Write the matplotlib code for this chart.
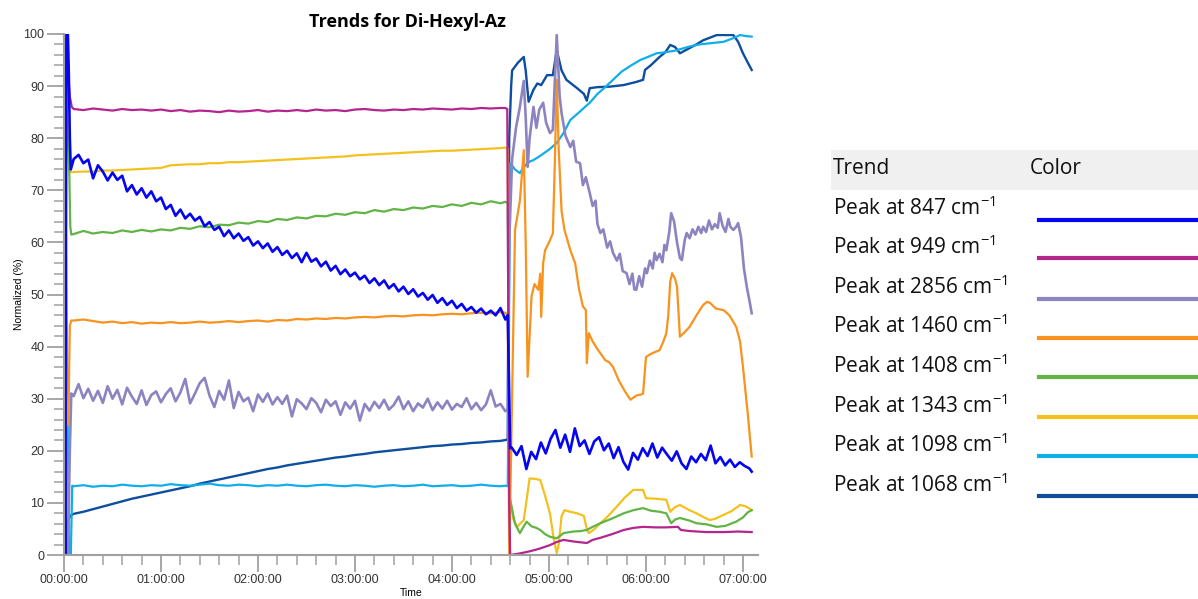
import numpy as np
import matplotlib
matplotlib.use("Agg")
import matplotlib.pyplot as plt
from matplotlib.ticker import MultipleLocator, FuncFormatter
from matplotlib.patches import Rectangle
from matplotlib.lines import Line2D

plt.rcParams['mathtext.fontset'] = 'custom'
plt.rcParams['mathtext.rm'] = 'Open Sans'
plt.rcParams['mathtext.it'] = 'Open Sans'

TITLE = "Trends for Di-Hexyl-Az"
PEAKS = ["847", "949", "2856", "1460", "1408", "1343", "1098", "1068"]
COLORS = ["#0505F0", "#B4258E", "#8C84C0", "#F7931E", "#62B446", "#F3C11E", "#10AEE8", "#0D4E9E"]

# sampling grids (hours)
T_FINE = np.arange(6, 274, 3) / 60.0      # 0.10 .. 4.55
T_COARSE = np.arange(6, 271, 6) / 60.0    # 0.10 .. 4.50
T2_FINE = np.arange(277, 427, 3) / 60.0   # 4.62 .. 7.07

# ---- Peak at 847 ----
p847_t0 = [0.0, 0.012, 0.025, 0.04, 0.05, 0.06, 0.07]
p847_v0 = [83, 0, 100, 100, 92, 80, 74]
p847_v1 = [76.0, 76.8, 75.2, 75.9, 72.3, 74.8, 73.6, 71.9, 73.4, 72.0,
           72.8, 69.8, 71.0, 69.2, 70.4, 68.6, 69.8, 67.9, 68.6, 66.4,
           67.2, 65.1, 66.3, 64.6, 65.5, 64.2, 64.9, 63.1, 63.9, 62.4,
           63.0, 61.2, 62.3, 60.8, 61.7, 60.3, 61.0, 59.4, 60.2, 58.9,
           59.8, 58.2, 59.1, 57.6, 58.4, 57.0, 57.9, 56.2, 58.0, 56.3,
           56.9, 55.4, 56.3, 54.6, 55.5, 53.9, 54.8, 53.5, 54.2, 52.9,
           53.6, 52.2, 53.1, 51.8, 52.7, 51.2, 52.0, 50.6, 51.5, 50.1,
           51.0, 49.6, 50.3, 49.0, 49.9, 48.4, 49.3, 48.0, 48.8, 47.4,
           48.2, 46.9, 47.6, 46.5, 47.3, 46.2, 46.9, 46.0, 47.4, 45.2]
p847_tb = [4.575, 4.60]
p847_vb = [46.0, 20.5]
p847_v2 = [20.6, 19.2, 20.9, 16.5, 19.8, 18.4, 21.6, 19.5, 22.3, 24.0,
           20.6, 23.1, 19.8, 24.3, 20.9, 22.0, 19.4, 21.8, 22.6, 20.1,
           21.4, 18.6, 20.7, 17.9, 16.4, 19.6, 18.3, 20.5, 19.0, 21.4,
           18.7, 20.6, 19.3, 18.1, 19.9, 17.6, 16.5, 18.9, 17.8, 19.4,
           18.2, 21.0, 17.6, 18.8, 17.2, 18.3, 16.9, 17.8, 17.1, 16.6]
p847_te = [7.09]
p847_ve = [16.0]

# ---- Peak at 949 ----
p949_t0 = [0.0, 0.04, 0.06, 0.08]
p949_v0 = [100, 93, 88, 86]
p949_v1 = [85.6, 85.4, 85.7, 85.5, 85.3, 85.6, 85.4, 85.5, 85.3, 85.5,
           85.2, 85.4, 85.1, 85.3, 85.2, 85.0, 85.3, 85.1, 85.2, 85.4,
           85.1, 85.3, 85.2, 85.4, 85.2, 85.5, 85.3, 85.4, 85.2, 85.5,
           85.6, 85.4, 85.3, 85.5, 85.4, 85.6, 85.5, 85.7, 85.6, 85.5,
           85.7, 85.6, 85.8, 85.7, 85.8]
p949_t2 = [4.55, 4.57, 4.59, 4.60, 4.7, 4.8, 4.9, 5.01, 5.08, 5.15, 5.25, 5.39, 5.45,
           5.53, 5.65, 5.77, 5.87, 5.97, 6.1, 6.2, 6.33, 6.36, 6.45, 6.62, 6.8, 6.95, 7.09]
p949_v2 = [85.8, 85.6, 10, 0, 0.3, 0.7, 1.2, 1.9, 2.5, 2.9, 2.6, 2.3, 2.9,
           3.3, 4.0, 4.8, 5.2, 5.4, 5.3, 5.3, 5.4, 4.8, 4.6, 4.4, 4.4, 4.5, 4.4]

# ---- Peak at 2856 ----
p2856_t0 = [0.0, 0.02, 0.04, 0.06, 0.075]
p2856_v0 = [13, 0, 0, 20, 31]
p2856_v1 = [30.5, 32.8, 30.1, 31.9, 29.6, 31.5, 29.2, 32.4, 30.0, 31.7,
            28.9, 32.1, 30.4, 29.0, 31.6, 28.8, 30.7, 31.4, 29.3, 30.9,
            32.0, 29.5, 31.2, 33.8, 29.1, 31.0, 33.0, 34.0, 30.6, 28.4,
            31.5, 29.8, 33.5, 28.2, 31.3, 29.5, 30.2, 27.6, 30.8, 29.4,
            31.0, 28.9, 30.3, 29.0, 30.6, 26.6, 29.9, 29.1, 28.0, 30.1,
            29.2, 27.4, 29.8, 28.6, 29.5, 26.9, 29.3, 28.1, 29.6, 25.8,
            29.0, 27.7, 29.4, 28.2, 29.8, 27.9, 28.8, 30.4, 28.0, 29.5,
            27.6, 29.1, 28.3, 30.0, 27.8, 29.3, 28.1, 29.6, 27.9, 29.0,
            28.4, 30.1, 28.0, 29.2, 27.8, 28.9, 31.6, 28.5, 29.0, 27.6]
p2856_t2 = [4.575, 4.59, 4.62, 4.66, 4.70, 4.74, 4.76, 4.78, 4.80, 4.84, 4.87, 4.90, 4.94,
            4.97, 5.01, 5.04, 5.08, 5.11, 5.13, 5.17, 5.22, 5.25, 5.28, 5.32, 5.35, 5.38,
            5.42, 5.45, 5.48, 5.50, 5.53, 5.56, 5.60, 5.63, 5.66, 5.70, 5.73, 5.76, 5.80,
            5.83, 5.86, 5.88, 5.90, 5.93, 5.96, 5.99, 6.01, 6.04, 6.07, 6.09, 6.11, 6.14,
            6.17, 6.19, 6.21, 6.24, 6.26, 6.29, 6.32, 6.35, 6.37, 6.40, 6.42, 6.45, 6.48,
            6.51, 6.54, 6.57, 6.59, 6.62, 6.65, 6.68, 6.71, 6.74, 6.76, 6.79, 6.82, 6.85,
            6.87, 6.90, 6.93, 6.95, 6.98, 7.01, 7.04, 7.07, 7.09]
p2856_v2 = [28, 60, 76, 82, 86, 91, 84, 74.5, 80, 86, 82, 85.5, 86.8,
            83, 81, 81.6, 99.8, 88, 84.8, 80.5, 78.3, 79.5, 75.5, 75.2, 71, 72.5,
            69.5, 67, 68, 63.5, 61.8, 62.5, 59, 60.2, 58, 56.5, 57.8, 54.5, 54.1,
            52.0, 54.0, 51.0, 50.9, 53.5, 51.5, 55.0, 54.1, 56.5, 55.0, 58.0, 56.6, 57.8,
            56.2, 59.5, 58.5, 62.0, 65.6, 64.0, 60.0, 57.0, 56.6, 60.5, 61.8, 60.8, 62.5,
            61.5, 63.0, 61.8, 63.0, 62.0, 64.2, 62.5, 63.5, 62.8, 65.6, 63.2, 62.0, 64.5,
            63.0, 62.4, 63.0, 63.7, 61.0, 55.0, 51.4, 48.5, 46.4]

# ---- Peak at 1460 ----
p1460_t0 = [0.0, 0.01, 0.03, 0.045, 0.06, 0.075]
p1460_v0 = [100, 37, 26, 25, 44, 45]
p1460_v1 = [45.0, 45.2, 44.9, 44.6, 44.8, 44.5, 44.7, 44.4, 44.6, 44.5,
            44.7, 44.5, 44.6, 44.8, 44.6, 44.7, 44.9, 44.7, 44.9, 45.0,
            44.8, 45.1, 45.0, 45.3, 45.2, 45.4, 45.3, 45.5, 45.4, 45.6,
            45.7, 45.6, 45.8, 45.9, 45.8, 46.0, 46.1, 46.0, 46.2, 46.3,
            46.2, 46.4, 46.5, 46.4, 46.6]
p1460_t2 = [4.55, 4.575, 4.59, 4.61, 4.65, 4.70, 4.74, 4.76, 4.78, 4.82, 4.85, 4.89, 4.91,
            4.92, 4.94, 4.96, 5.00, 5.04, 5.06, 5.08, 5.10, 5.13, 5.16, 5.22, 5.27, 5.31,
            5.35, 5.38, 5.39, 5.41, 5.45, 5.5, 5.55, 5.58, 5.62, 5.66, 5.72, 5.78, 5.84,
            5.90, 5.95, 5.97, 6.0, 6.05, 6.10, 6.14, 6.18, 6.21, 6.23, 6.25, 6.27, 6.30,
            6.32, 6.35, 6.40, 6.45, 6.52, 6.59, 6.63, 6.66, 6.72, 6.80, 6.86, 6.93, 6.97,
            7.0, 7.05, 7.09]
p1460_v2 = [46.5, 46.0, 0, 20, 62.4, 68, 77.7, 60, 34.2, 49.6, 52, 50.9, 54,
            45.7, 56, 58.5, 60, 61.7, 75, 91.2, 78, 66, 62.4, 58.5, 56, 51,
            47.7, 47.0, 36.8, 42.6, 41, 39.5, 38.2, 37.4, 37, 36.1, 33.5, 31.5, 29.8,
            30.6, 30.8, 31.0, 38, 38.6, 39, 39.3, 41, 42.6, 46, 52.5, 54.1, 53,
            51.5, 41.9, 42.8, 43.8, 46, 48, 48.6, 48.4, 47.3, 47, 46, 43.8, 41,
            36.1, 27, 18.9]

# ---- Peak at 1408 ----
p1408_t0 = [0.0, 0.03, 0.055, 0.065, 0.075]
p1408_v0 = [100, 83, 73, 63, 61.5]
p1408_v1 = [61.6, 62.2, 61.7, 62.0, 61.8, 62.3, 62.0, 62.4, 62.1, 62.5,
            62.3, 62.8, 62.6, 63.1, 62.9, 63.4, 63.3, 63.8, 63.6, 64.1,
            63.9, 64.5, 64.3, 64.8, 64.6, 65.1, 65.0, 65.5, 65.3, 65.8,
            65.6, 66.2, 65.9, 66.4, 66.2, 66.7, 66.5, 67.0, 66.8, 67.3,
            67.0, 67.6, 67.3, 67.9, 67.5]
p1408_t2 = [4.55, 4.575, 4.59, 4.60, 4.65, 4.70, 4.74, 4.77, 4.82, 4.87, 4.91, 4.96, 5.01,
            5.08, 5.15, 5.25, 5.33, 5.39, 5.45, 5.53, 5.65, 5.77, 5.87, 5.97, 6.05, 6.14,
            6.21, 6.26, 6.30, 6.35, 6.45, 6.52, 6.62, 6.73, 6.82, 6.93, 7.0, 7.05, 7.09]
p1408_v2 = [67.8, 67.5, 12, 10.6, 6, 4.2, 5.5, 6.4, 5.5, 5.2, 4.8, 4.0, 3.5,
            3.2, 4.2, 4.5, 4.6, 4.8, 5.4, 6.1, 7.0, 8.0, 8.6, 9.0, 8.5, 8.3,
            8.0, 6.1, 6.8, 7.1, 6.6, 6.1, 5.9, 5.4, 5.6, 6.4, 7.2, 8.2, 8.6]

# ---- Peak at 1343 ----
p1343_t0 = [0.0, 0.03, 0.05, 0.065]
p1343_v0 = [100, 84, 82, 73.5]
p1343_v1 = [73.5, 73.6, 73.6, 73.8, 73.8, 73.9, 74.0, 74.1, 74.2, 74.3,
            74.8, 74.9, 75.0, 75.0, 75.2, 75.2, 75.4, 75.4, 75.5, 75.6,
            75.7, 75.8, 75.9, 76.0, 76.1, 76.2, 76.3, 76.4, 76.5, 76.7,
            76.8, 76.9, 77.0, 77.1, 77.2, 77.3, 77.4, 77.5, 77.6, 77.6,
            77.7, 77.8, 77.9, 78.0, 78.1]
p1343_t2 = [4.55, 4.575, 4.59, 4.60, 4.63, 4.67, 4.74, 4.78, 4.80, 4.86, 4.91, 4.95, 5.01,
            5.05, 5.08, 5.10, 5.13, 5.16, 5.22, 5.29, 5.36, 5.39, 5.41, 5.47, 5.53, 5.6,
            5.70, 5.78, 5.87, 5.97, 6.0, 6.1, 6.21, 6.25, 6.30, 6.35, 6.45, 6.52, 6.60,
            6.66, 6.72, 6.80, 6.88, 6.97, 7.02, 7.06, 7.09]
p1343_v2 = [78.2, 78.0, 15, 10.6, 7, 5.4, 6.7, 12, 14.7, 14.6, 14.4, 12, 8,
            3, 0.4, 2, 7.5, 8.6, 8.3, 8, 7.5, 5, 4.2, 5, 6.1, 7.3,
            9.3, 11, 12.5, 12.5, 10.9, 10.8, 10.6, 8.3, 9.2, 9.6, 8.6, 8, 7.2,
            6.7, 7.0, 7.7, 8.4, 9.6, 9.4, 9.0, 8.6]

# ---- Peak at 1098 ----
p1098_t0 = [0.0, 0.05, 0.07, 0.085]
p1098_v0 = [100, 2, 0, 13.3]
p1098_v1 = [13.2, 13.4, 13.1, 13.3, 13.2, 13.5, 13.3, 13.2, 13.4, 13.3,
            13.6, 13.4, 13.3, 13.5, 13.7, 13.4, 13.3, 13.5, 13.4, 13.2,
            13.4, 13.3, 13.5, 13.3, 13.2, 13.4, 13.5, 13.3, 13.2, 13.4,
            13.3, 13.1, 13.3, 13.4, 13.2, 13.3, 13.5, 13.2, 13.3, 13.4,
            13.2, 13.3, 13.5, 13.3, 13.2]
p1098_t2 = [4.55, 4.575, 4.60, 4.65, 4.70, 4.74, 4.80, 4.84, 4.9, 5.0, 5.08, 5.15, 5.22,
            5.3, 5.42, 5.5, 5.58, 5.66, 5.75, 5.85, 5.94, 6.02, 6.11, 6.2, 6.3, 6.45,
            6.55, 6.65, 6.80, 6.9, 6.97, 7.03, 7.09]
p1098_v2 = [13.3, 13.2, 75.2, 74.0, 73.3, 74.5, 75.5, 75.8, 76.5, 77.8, 79.1, 81.0, 83.5,
            84.8, 86.8, 88.5, 89.8, 91.2, 92.8, 94.0, 95.0, 95.6, 96.3, 96.5, 96.8, 97.6,
            98.0, 98.2, 98.5, 99.2, 99.8, 99.6, 99.5]

# ---- Peak at 1068 ----
p1068_t0 = [0.0, 0.01, 0.03, 0.05, 0.07]
p1068_v0 = [0, 3, 5, 7, 7.6]
p1068_v1 = [7.9, 8.3, 8.8, 9.3, 9.8, 10.3, 10.8, 11.2, 11.6, 12.0,
            12.4, 12.8, 13.2, 13.7, 14.1, 14.5, 14.9, 15.3, 15.7, 16.1,
            16.5, 16.8, 17.2, 17.5, 17.8, 18.1, 18.4, 18.7, 18.9, 19.2,
            19.4, 19.7, 19.9, 20.1, 20.3, 20.5, 20.7, 20.9, 21.0, 21.2,
            21.3, 21.5, 21.6, 21.8, 21.9]
p1068_t2 = [4.56, 4.575, 4.59, 4.61, 4.62, 4.68, 4.74, 4.76, 4.79, 4.84, 4.88, 4.92, 4.98,
            5.04, 5.08, 5.13, 5.18, 5.29, 5.36, 5.39, 5.42, 5.5, 5.63, 5.77, 5.9, 5.97,
            5.99, 6.05, 6.14, 6.2, 6.25, 6.3, 6.35, 6.4, 6.45, 6.52, 6.59, 6.66, 6.73,
            6.8, 6.9, 6.95, 7.0, 7.05, 7.09]
p1068_v2 = [22.1, 22.3, 80, 90, 93, 94.5, 95.6, 93, 87, 89.3, 90.5, 90.2, 92.1,
            92.1, 96.9, 93, 91.2, 89.6, 88.5, 87.2, 89.6, 89.8, 89.9, 90.2, 90.8, 91.2,
            93.1, 94.0, 95.6, 96.5, 97.9, 97.5, 96.3, 96.8, 97.3, 98.0, 98.8, 99.3, 99.8,
            99.8, 99.8, 98.5, 96.3, 94.5, 93.1]

series = [
    (np.concatenate([p847_t0, T_FINE, p847_tb, T2_FINE, p847_te]),
     np.concatenate([p847_v0, p847_v1, p847_vb, p847_v2, p847_ve]), 1.9),
    (np.concatenate([p949_t0, T_COARSE, p949_t2]), np.concatenate([p949_v0, p949_v1, p949_v2]), 1.6),
    (np.concatenate([p2856_t0, T_FINE, p2856_t2]), np.concatenate([p2856_v0, p2856_v1, p2856_v2]), 1.9),
    (np.concatenate([p1460_t0, T_COARSE, p1460_t2]), np.concatenate([p1460_v0, p1460_v1, p1460_v2]), 1.6),
    (np.concatenate([p1408_t0, T_COARSE, p1408_t2]), np.concatenate([p1408_v0, p1408_v1, p1408_v2]), 1.6),
    (np.concatenate([p1343_t0, T_COARSE, p1343_t2]), np.concatenate([p1343_v0, p1343_v1, p1343_v2]), 1.6),
    (np.concatenate([p1098_t0, T_COARSE, p1098_t2]), np.concatenate([p1098_v0, p1098_v1, p1098_v2]), 1.6),
    (np.concatenate([p1068_t0, T_COARSE, p1068_t2]), np.concatenate([p1068_v0, p1068_v1, p1068_v2]), 1.7),
]

fig = plt.figure(figsize=(11.98, 5.99), dpi=100)
ax = fig.add_axes([64 / 1198, 44 / 599, 694 / 1198, 521 / 599])

draw_order = [7, 6, 5, 4, 3, 2, 1, 0]
for i in draw_order:
    t, v, lw = series[i]
    ax.plot(t, v, color=COLORS[i], lw=lw, solid_joinstyle='round')

ax.set_xlim(0, 7.155)
ax.set_ylim(0, 100)
ax.xaxis.set_major_locator(MultipleLocator(1.0))
ax.xaxis.set_minor_locator(MultipleLocator(0.2))
ax.yaxis.set_major_locator(MultipleLocator(10))
ax.yaxis.set_minor_locator(MultipleLocator(2))

def hms(x, pos):
    total = int(round(x * 3600))
    return "%02d:%02d:%02d" % (total // 3600, (total % 3600) // 60, total % 60)

ax.xaxis.set_major_formatter(FuncFormatter(hms))
for s in ['top', 'right']:
    ax.spines[s].set_visible(False)
for s in ['left', 'bottom']:
    ax.spines[s].set_color('#A0A0A0')
    ax.spines[s].set_linewidth(1.5)
ax.tick_params(which='major', length=12, width=1.3, color='#A0A0A0',
               labelsize=9, labelcolor='#333333', pad=2)
ax.tick_params(which='minor', length=7, width=1.1, color='#A0A0A0')
for lab in ax.get_xticklabels() + ax.get_yticklabels():
    lab.set_fontfamily('Liberation Sans')

ax.set_xlabel("Time", fontsize=7.5, family='Liberation Sans', labelpad=1)
ax.set_ylabel("Normalized (%)", fontsize=7.5, family='Liberation Sans', labelpad=0)
fig.text(407 / 1198, 1 - 22 / 599, TITLE, ha='center', va='center',
         fontsize=13, fontweight='bold', family='Open Sans')

# legend table
tab = fig.add_axes([0, 0, 1, 1])
tab.set_xlim(0, 1198)
tab.set_ylim(599, 0)
tab.axis('off')
tab.add_patch(Rectangle((831, 150), 367, 40, facecolor='#F0F0F0', edgecolor='none'))
tab.text(833, 169, "Trend", fontsize=15, family='Open Sans', va='center', ha='left', color='#111111')
tab.text(1030, 169, "Color", fontsize=15, family='Open Sans', va='center', ha='left', color='#111111')
text_y = [208, 247, 287, 326, 366, 406, 445, 485]
line_y = [220, 258, 299, 338, 377, 417, 456, 496]
for i, p in enumerate(PEAKS):
    tab.text(833, text_y[i], "Peak at %s cm$^{-1}$" % p, fontsize=15, family='Open Sans',
             va='center', ha='left', color='#111111')
    tab.add_line(Line2D([1039, 1198], [line_y[i], line_y[i]], color=COLORS[i], lw=3))

fig.savefig("out.png", dpi=100)
